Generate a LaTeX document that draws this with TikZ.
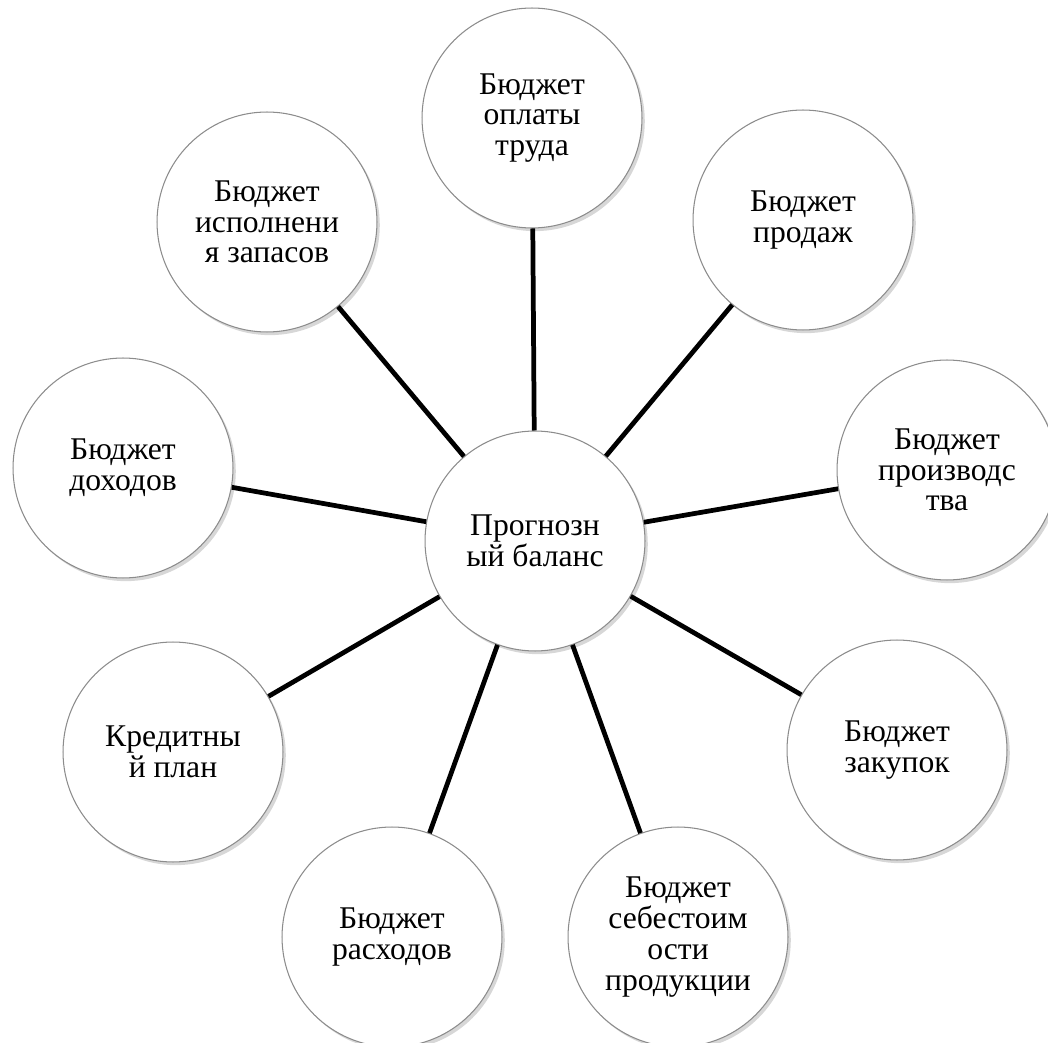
\documentclass[tikz,border=0pt]{standalone}
\usepackage{fontspec}
\setmainfont{Liberation Serif}
\usetikzlibrary{shadows}

\begin{document}
\begin{tikzpicture}[x=0.02cm, y=-0.02cm,
  budget/.style={circle, draw=gray!90, line width=0.6pt, fill=white,
    minimum size=4.4cm, inner sep=0pt, align=center,
    font=\fontsize{18}{17.5}\selectfont,
    drop shadow={fill=gray!70, opacity=0.45, shadow xshift=1.6pt, shadow yshift=-1.8pt}},
  link/.style={line width=2.7pt, black}]
  \useasboundingbox (0,0) rectangle (1048,1043);
  % Centre node
  \node[budget] (balance) at (535,541) {Прогнозн\\ый баланс};
  % Budgets around it
  \node[budget] (trud) at (532,118) {Бюджет\\оплаты\\труда};
  \node[budget] (prodazhi) at (803,220) {Бюджет\\продаж};
  \node[budget] (proizv) at (947,470) {Бюджет\\производс\\тва};
  \node[budget] (zakupki) at (897,750) {Бюджет\\закупок};
  \node[budget] (sebest) at (678,937) {Бюджет\\себестоим\\ости\\продукции};
  \node[budget] (raskhody) at (392,937) {Бюджет\\расходов};
  \node[budget] (kredit) at (173,752) {Кредитны\\й план};
  \node[budget] (dokhody) at (123,468) {Бюджет\\доходов};
  \node[budget] (zapasy) at (267,222) {Бюджет\\исполнени\\я запасов};
  % Links from the balance
  \foreach \n in {trud, prodazhi, proizv, zakupki, sebest, raskhody, kredit, dokhody, zapasy}
    \draw[link] (balance) -- (\n);
\end{tikzpicture}
\end{document}
